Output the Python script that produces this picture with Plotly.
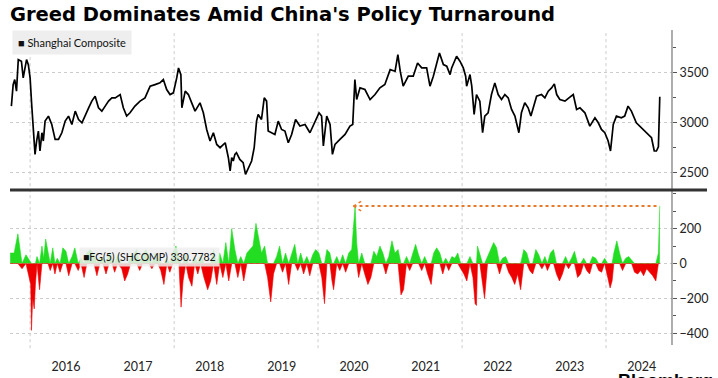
import plotly.graph_objects as go

# ---------------- data ----------------
shcomp_dates = [
    "2015-09-28","2015-10-07","2015-10-15","2015-10-24","2015-11-02","2015-11-18","2015-11-27","2015-12-05",
    "2015-12-14","2015-12-23","2016-01-01","2016-01-09","2016-01-17","2016-01-26","2016-02-03","2016-02-12",
    "2016-02-20","2016-03-01","2016-03-08","2016-03-17","2016-04-03","2016-04-20","2016-05-07","2016-05-24",
    "2016-06-10","2016-06-27","2016-07-14","2016-07-31","2016-08-17","2016-09-03","2016-09-20","2016-10-07",
    "2016-10-24","2016-11-09","2016-11-26","2016-12-13","2016-12-30","2017-01-16","2017-02-02","2017-02-19",
    "2017-03-08","2017-04-02","2017-04-18","2017-05-05","2017-05-22","2017-06-16","2017-07-12","2017-08-06",
    "2017-09-01","2017-09-26","2017-10-21","2017-11-07","2017-11-24","2017-12-11","2017-12-28","2018-01-14",
    "2018-01-23","2018-02-04","2018-02-09","2018-02-26","2018-03-14","2018-03-31","2018-04-17","2018-05-12",
    "2018-05-29","2018-06-15","2018-07-02","2018-07-19","2018-08-05","2018-08-22","2018-09-17","2018-10-03",
    "2018-10-12","2018-10-20","2018-10-28","2018-11-05","2018-11-13","2018-11-30","2018-12-17","2018-12-29",
    "2019-01-12","2019-01-29","2019-02-11","2019-02-23","2019-03-03","2019-03-20","2019-04-03","2019-04-15",
    "2019-04-23","2019-05-10","2019-05-27","2019-06-13","2019-06-30","2019-07-17","2019-08-03","2019-08-20",
    "2019-09-09","2019-10-01","2019-10-27","2019-11-21","2019-12-16","2020-01-06","2020-01-19","2020-01-28",
    "2020-02-14","2020-03-02","2020-03-14","2020-03-27","2020-04-21","2020-05-17","2020-06-11","2020-06-25",
    "2020-07-06","2020-07-15","2020-08-01","2020-08-26","2020-09-21","2020-10-16","2020-11-10","2020-12-05",
    "2021-01-01","2021-01-26","2021-02-09","2021-02-21","2021-03-08","2021-04-03","2021-04-28","2021-05-20",
    "2021-06-10","2021-07-05","2021-07-22","2021-08-08","2021-09-08","2021-09-28","2021-10-15","2021-11-01",
    "2021-11-09","2021-12-04","2021-12-21","2022-01-07","2022-01-19","2022-01-24","2022-02-10","2022-02-19",
    "2022-03-03","2022-03-15","2022-04-01","2022-04-15","2022-04-26","2022-05-13","2022-05-30","2022-06-16",
    "2022-07-03","2022-07-20","2022-08-06","2022-08-23","2022-09-09","2022-09-26","2022-10-16","2022-10-29",
    "2022-11-15","2022-12-02","2022-12-16","2022-12-28","2023-01-14","2023-02-08","2023-02-25","2023-03-14",
    "2023-03-31","2023-04-14","2023-04-26","2023-05-12","2023-06-07","2023-06-27","2023-07-19","2023-08-05",
    "2023-08-22","2023-09-16","2023-10-11","2023-11-06","2023-11-23","2023-12-09","2023-12-26","2024-01-12",
    "2024-01-24","2024-02-07","2024-02-23","2024-03-19","2024-04-05","2024-04-22","2024-05-09","2024-06-03",
    "2024-06-20","2024-07-07","2024-08-02","2024-08-19","2024-09-02","2024-09-13","2024-09-23","2024-09-30",
]
shcomp_values = [
    3167,3383,3433,3317,3633,3617,3450,3533,
    3633,3583,3450,3183,2983,2683,2817,2917,
    2717,2900,2817,3017,3067,2983,2833,2833,
    2900,3017,3067,2983,3117,3033,3000,3083,
    3150,3217,3267,3150,3117,3167,3217,3250,
    3250,3283,3150,3067,3100,3167,3217,3250,
    3367,3383,3400,3433,3333,3283,3300,3450,
    3550,3483,3150,3317,3283,3200,3117,3200,
    3100,2933,2817,2900,2783,2750,2800,2650,
    2517,2650,2617,2683,2700,2633,2600,2483,
    2550,2617,2750,3017,3083,3033,3250,3217,
    2917,2900,2883,3017,2933,2917,2800,2883,
    3033,2967,2983,2900,3017,3100,3067,2767,
    3067,2983,2683,2783,2833,2883,2967,2983,
    3433,3233,3350,3333,3233,3283,3350,3383,
    3533,3517,3683,3517,3367,3467,3467,3600,
    3550,3550,3367,3467,3700,3583,3567,3483,
    3550,3667,3617,3550,3467,3367,3483,3367,
    3083,3283,3217,2900,3067,3100,3283,3400,
    3283,3233,3283,3250,3133,3067,2900,3100,
    3200,3150,3067,3150,3267,3283,3250,3317,
    3350,3390,3283,3233,3217,3250,3283,3133,
    3150,3100,2967,3050,3000,2933,2900,2817,
    2717,2983,3067,3050,3067,3167,3117,3000,
    2967,2933,2883,2850,2717,2717,2760,3260,
]

fg_dates = [
    "2015-09-22","2015-10-12","2015-10-31","2015-11-21","2015-12-11","2016-01-04","2016-01-08","2016-01-14",
    "2016-01-22","2016-01-28","2016-02-05","2016-02-18","2016-03-01","2016-03-10","2016-03-20","2016-04-01",
    "2016-04-12","2016-04-25","2016-05-06","2016-05-18","2016-06-01","2016-06-15","2016-07-01","2016-07-15",
    "2016-08-01","2016-08-15","2016-09-01","2016-09-15","2016-10-01","2016-10-15","2016-11-01","2016-11-20",
    "2016-12-05","2016-12-20","2017-01-05","2017-01-20","2017-02-05","2017-02-20","2017-03-05","2017-03-20",
    "2017-04-10","2017-04-25","2017-05-10","2017-05-25","2017-06-10","2017-06-25","2017-07-10","2017-07-25",
    "2017-08-10","2017-08-25","2017-09-10","2017-09-25","2017-10-10","2017-10-25","2017-11-10","2017-11-25",
    "2017-12-10","2017-12-25","2018-01-10","2018-01-25","2018-02-05","2018-02-15","2018-03-01","2018-03-15",
    "2018-04-01","2018-04-15","2018-05-01","2018-05-15","2018-06-01","2018-06-20","2018-07-05","2018-07-20",
    "2018-08-05","2018-08-20","2018-09-05","2018-09-20","2018-10-05","2018-10-20","2018-11-05","2018-11-20",
    "2018-12-05","2018-12-20","2019-01-05","2019-01-20","2019-02-05","2019-02-20","2019-03-05","2019-03-20",
    "2019-04-05","2019-04-20","2019-05-06","2019-05-20","2019-06-05","2019-06-20","2019-07-05","2019-07-20",
    "2019-08-05","2019-08-20","2019-09-05","2019-09-20","2019-10-05","2019-10-20","2019-11-05","2019-11-20",
    "2019-12-05","2019-12-20","2020-01-05","2020-01-20","2020-02-03","2020-02-15","2020-03-01","2020-03-12",
    "2020-03-20","2020-04-05","2020-04-20","2020-05-05","2020-05-20","2020-06-05","2020-06-20","2020-07-07",
    "2020-07-15","2020-07-25","2020-08-10","2020-08-25","2020-09-10","2020-09-25","2020-10-10","2020-10-25",
    "2020-11-10","2020-11-25","2020-12-10","2020-12-25","2021-01-10","2021-01-25","2021-02-10","2021-02-25",
    "2021-03-10","2021-03-25","2021-04-10","2021-04-25","2021-05-10","2021-05-25","2021-06-10","2021-06-25",
    "2021-07-10","2021-07-28","2021-08-10","2021-08-25","2021-09-10","2021-09-25","2021-10-10","2021-10-25",
    "2021-11-10","2021-11-25","2021-12-10","2021-12-25","2022-01-10","2022-01-25","2022-02-10","2022-02-25",
    "2022-03-08","2022-03-15","2022-03-20","2022-04-01","2022-04-15","2022-04-25","2022-05-10","2022-05-25",
    "2022-06-10","2022-06-25","2022-07-10","2022-07-25","2022-08-10","2022-08-25","2022-09-10","2022-09-25",
    "2022-10-10","2022-10-25","2022-11-10","2022-11-25","2022-12-10","2022-12-25","2023-01-10","2023-01-25",
    "2023-02-10","2023-02-25","2023-03-10","2023-03-25","2023-04-10","2023-04-25","2023-05-10","2023-05-25",
    "2023-06-10","2023-06-25","2023-07-10","2023-07-25","2023-08-10","2023-08-25","2023-09-10","2023-09-25",
    "2023-10-10","2023-10-25","2023-11-10","2023-11-25","2023-12-10","2023-12-25","2024-01-10","2024-01-22",
    "2024-02-01","2024-02-10","2024-02-25","2024-03-10","2024-03-25","2024-04-10","2024-04-25","2024-05-10",
    "2024-05-25","2024-06-10","2024-06-25","2024-07-10","2024-07-25","2024-08-10","2024-08-25","2024-09-10",
    "2024-09-23","2024-09-30",
]
fg_values = [
    60,60,170,-30,50,-120,-383,-200,
    -260,-120,40,-150,100,30,140,60,
    -40,90,-60,30,-50,90,70,-70,
    40,90,-40,30,-80,60,80,50,
    -70,40,30,-60,60,40,-50,50,
    -30,-100,-60,30,60,80,-40,50,
    80,40,-30,60,40,-40,-120,30,
    -50,60,100,40,-250,-100,60,-80,
    -130,40,-60,50,-80,-150,-100,80,
    -120,60,-80,120,-100,200,80,-80,
    40,-100,60,80,100,230,150,60,
    100,-80,-220,-60,40,100,-50,60,
    -120,50,110,-40,60,-60,40,-70,
    50,80,60,-80,-230,80,60,-100,
    -150,40,-40,50,-50,60,80,330,
    120,-80,60,-60,-120,-80,70,40,
    100,60,-60,40,130,60,80,-180,
    -150,40,-40,60,110,50,-40,40,
    -60,-120,60,90,60,-60,30,-40,
    40,30,60,-30,-60,-100,40,-80,
    -230,-240,100,60,-120,-200,40,80,
    120,90,-60,30,40,-50,-80,-120,
    -60,-150,80,60,-40,-60,80,50,
    -30,40,-40,60,80,-60,-100,-60,
    40,-30,30,70,-80,-60,30,-40,
    -60,40,30,-40,-50,30,-80,-140,
    -100,60,130,60,-40,30,40,20,
    -50,-60,-40,-70,-30,-50,-70,-100,
    60,330.7782,
]

year_tick_dates = ["2016-07-01","2017-07-01","2018-07-01","2019-07-01","2020-07-01",
                   "2021-07-01","2022-07-01","2023-07-01","2024-07-01"]
year_tick_labels = ["2016","2017","2018","2019","2020","2021","2022","2023","2024"]
grid_dates = ["2016-01-01","2018-01-01","2020-01-01","2022-01-01","2024-01-01"]

# ---------------- figure ----------------
fig = go.Figure()

fig.add_trace(go.Scatter(x=shcomp_dates, y=shcomp_values, mode="lines",
                         line=dict(color="black", width=1.7), yaxis="y", xaxis="x",
                         showlegend=False, hoverinfo="skip"))

fg_pos = [max(v, 0) for v in fg_values]
fg_neg = [min(v, 0) for v in fg_values]
fig.add_trace(go.Scatter(x=fg_dates, y=fg_pos, mode="lines", fill="tozeroy",
                         line=dict(color="#22dd22", width=0.6), fillcolor="#22dd22",
                         yaxis="y2", xaxis="x", showlegend=False, hoverinfo="skip"))
fig.add_trace(go.Scatter(x=fg_dates, y=fg_neg, mode="lines", fill="tozeroy",
                         line=dict(color="#ee0000", width=0.6), fillcolor="#ee0000",
                         yaxis="y2", xaxis="x", showlegend=False, hoverinfo="skip"))

tickfont = dict(family="Lato", size=12.5, color="#222222")

fig.update_layout(
    template="none",
    width=718, height=378,
    margin=dict(l=10, r=46, t=30, b=33, autoexpand=False),
    paper_bgcolor="white", plot_bgcolor="white",
    font=dict(family="Lato", size=12, color="#222222"),
    xaxis=dict(range=["2015-09-21", "2024-12-01"], type="date", anchor="y2", automargin=False,
               tickvals=year_tick_dates, ticktext=year_tick_labels,
               ticks="outside", ticklen=10, tickcolor="rgba(0,0,0,0)",
               showgrid=False, zeroline=False, showline=False, tickfont=tickfont),
    yaxis=dict(domain=[0.498, 1.0], range=[2345, 3930], side="right", anchor="x", automargin=False,
               tickvals=[2500, 3000, 3500], ticks="outside", ticklen=4, tickcolor="#555555",
               minor=dict(tickvals=[2750, 3250, 3750], ticks="outside", ticklen=3,
                          tickcolor="#555555", showgrid=False),
               showgrid=True, gridcolor="#cccccc", griddash="dot", gridwidth=1,
               zeroline=False, showline=False, tickfont=tickfont),
    yaxis2=dict(domain=[0.0, 0.483], range=[-467, 405], side="right", anchor="x", automargin=False,
                tickvals=[-400, -200, 0, 200], ticks="outside", ticklen=4, tickcolor="#555555",
                minor=dict(tickvals=[-300, -100, 100, 300, 400], ticks="outside", ticklen=3,
                           tickcolor="#555555", showgrid=False),
                showgrid=True, gridcolor="#cccccc", griddash="dot", gridwidth=1,
                zeroline=False, showline=False, tickfont=tickfont),
    title=dict(text="<b>Greed Dominates Amid China's Policy Turnaround</b>",
               x=10/718, xanchor="left", y=1 - 14/378, yanchor="middle",
               font=dict(family="DejaVu Sans", size=19.5, color="black")),
)

shapes = []
for d in grid_dates:
    shapes.append(dict(type="line", xref="x", yref="paper", x0=d, x1=d, y0=-0.01, y1=1,
                       line=dict(color="#cccccc", width=1, dash="dot"), layer="below"))
# right axis line
shapes.append(dict(type="line", xref="paper", yref="paper", x0=1, x1=1, y0=0, y1=1,
                   line=dict(color="#777777", width=1.2)))
# panel divider
shapes.append(dict(type="line", xref="paper", yref="paper", x0=0, x1=697/662, y0=0.492, y1=0.492,
                   line=dict(color="#333333", width=3)))
# dotted orange arrow marking the previous peak level
peak_start = "2020-06-29"
peak_end = "2024-09-24"
peak_level = 329
shapes.append(dict(type="line", xref="x", yref="y2", x0=peak_start, x1=peak_end,
                   y0=peak_level, y1=peak_level, line=dict(color="#e8782a", width=2, dash="dot")))
shapes.append(dict(type="line", xref="x", yref="y2", x0=peak_start, x1="2020-08-10",
                   y0=peak_level, y1=peak_level + 30, line=dict(color="#e8782a", width=1.5, dash="dot")))
shapes.append(dict(type="line", xref="x", yref="y2", x0=peak_start, x1="2020-08-10",
                   y0=peak_level, y1=peak_level - 30, line=dict(color="#e8782a", width=1.5, dash="dot")))
fig.update_layout(shapes=shapes)

fig.add_annotation(xref="paper", yref="paper", x=2/662, y=1.0, xanchor="left", yanchor="top",
                   text="■ Shanghai Composite", showarrow=False, align="left",
                   font=dict(family="Lato", size=11, color="#111111"),
                   bgcolor="#eeeeee", borderpad=5)
fig.add_annotation(xref="paper", yref="paper", x=69/662, y=(345 - 247) / 315, xanchor="left", yanchor="top",
                   text="■FG(5) (SHCOMP) 330.7782", showarrow=False, align="left",
                   font=dict(family="Lato", size=10.5, color="#111111"),
                   bgcolor="rgba(238,238,238,0.85)", borderpad=3)
fig.add_annotation(xref="paper", yref="paper", x=606/662, y=-(369 - 345) / 315, xanchor="left", yanchor="top",
                   text="<b>Bloomberg ■</b>", showarrow=False,
                   font=dict(family="Liberation Sans", size=18, color="black"))

fig.write_html("out.html", config={"displayModeBar": False},
               post_script="document.body.style.margin='0';")
